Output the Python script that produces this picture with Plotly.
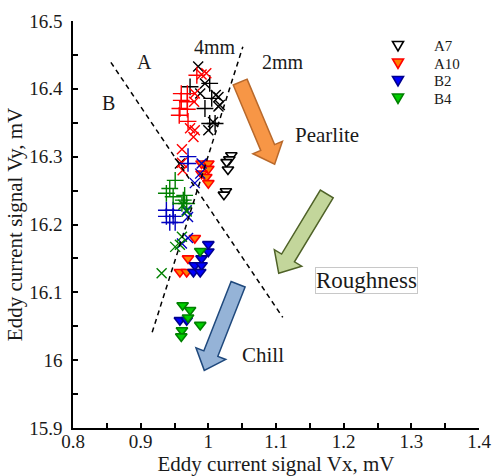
import math
import plotly.graph_objects as go

X_RANGE = [0.8, 1.4]
Y_RANGE = [15.9, 16.5]
X_TICKS = [0.8, 0.9, 1.0, 1.1, 1.2, 1.3, 1.4]
Y_TICKS = [15.9, 16.0, 16.1, 16.2, 16.3, 16.4, 16.5]

# ---- A7 (black) ----
a7_x_vx = [0.985, 0.995, 0.988, 1.011, 1.015, 1.017, 1.015, 1.007, 1.000, 0.958]
a7_x_vy = [16.433, 16.408, 16.393, 16.391, 16.388, 16.376, 16.374, 16.351, 16.339, 16.290]
a7_p_vx = [0.973, 1.002, 1.005, 0.995, 1.002, 1.010]
a7_p_vy = [16.403, 16.408, 16.386, 16.371, 16.349, 16.349]
a7_t_vx = [1.034, 1.031, 1.027, 1.029, 1.026, 1.023]
a7_t_vy = [16.302, 16.296, 16.292, 16.281, 16.249, 16.244]

# ---- A10 (red) ----
a10_p_vx = [0.983, 0.960, 0.969, 0.960, 0.969, 0.958, 0.969, 0.957, 0.970]
a10_p_vy = [16.420, 16.393, 16.393, 16.383, 16.381, 16.371, 16.370, 16.361, 16.352]
a10_x_vx = [0.997, 0.990, 0.980, 0.979, 0.973, 0.980, 0.978, 0.961, 0.961, 0.962]
a10_x_vy = [16.423, 16.421, 16.393, 16.381, 16.342, 16.339, 16.329, 16.311, 16.291, 16.280]
a10_t_vx = [0.990, 1.000, 1.000, 0.990, 0.997, 1.000, 0.980, 0.970, 0.958, 0.968]
a10_t_vy = [16.290, 16.290, 16.282, 16.275, 16.270, 16.261, 16.180, 16.150, 16.130, 16.130]

# ---- B2 (blue) ----
b2_p_vx = [0.970, 0.970, 0.938, 0.948, 0.938, 0.948, 0.943, 0.951]
b2_p_vy = [16.300, 16.290, 16.221, 16.221, 16.212, 16.212, 16.203, 16.203]
b2_x_vx = [0.990, 0.988, 0.980, 0.970, 0.968, 0.970, 0.961]
b2_x_vy = [16.290, 16.275, 16.261, 16.211, 16.221, 16.180, 16.172]
b2_t_vx = [1.000, 1.000, 0.990, 0.980, 0.990, 0.978, 0.988, 0.958, 0.968]
b2_t_vy = [16.171, 16.160, 16.150, 16.140, 16.140, 16.130, 16.130, 16.059, 16.059]

# ---- B4 (green) ----
b4_p_vx = [0.951, 0.943, 0.938, 0.948, 0.963, 0.965, 0.961, 0.968]
b4_p_vy = [16.265, 16.253, 16.246, 16.241, 16.236, 16.243, 16.231, 16.231]
b4_x_vx = [0.963, 0.968, 0.961, 0.958, 0.951, 0.931]
b4_x_vy = [16.229, 16.219, 16.182, 16.170, 16.167, 16.128]
b4_t_vx = [0.988, 0.962, 0.973, 0.970, 0.988, 0.961, 0.960]
b4_t_vy = [16.161, 16.081, 16.074, 16.063, 16.052, 16.044, 16.035]

# dashed separator lines (data coords)
line1_vx = [0.856, 1.110]
line1_vy = [16.439, 16.063]
line2_vx = [0.917, 1.051]
line2_vy = [16.041, 16.462]

LEGEND_NAMES = ["A7", "A10", "B2", "B4"]
LEGEND_FILL = ["#ffffff", "#ff8000", "#0000ff", "#00d000"]
LEGEND_LINE = ["#000000", "#ff0000", "#000090", "#008000"]

FONT = "Liberation Serif"
TXT = "#1a1a1a"

W, H = 493, 476
ML, MR, MT, MB = 73, 14, 21, 48
PW, PH = W - ML - MR, H - MT - MB

fig = go.Figure()

def add_group(name, xv, xy, pv, py, tv, ty, line_col, tri_fill, tri_line):
    fig.add_trace(go.Scatter(x=xv, y=xy, mode="markers", showlegend=False, legendgroup=name,
                             marker=dict(symbol="x-thin", size=10,
                                         line=dict(color=line_col, width=1.4))))
    fig.add_trace(go.Scatter(x=pv, y=py, mode="markers", showlegend=False, legendgroup=name,
                             marker=dict(symbol="cross-thin", size=12,
                                         line=dict(color=line_col, width=1.4))))
    fig.add_trace(go.Scatter(x=tv, y=ty, mode="markers", name=name, showlegend=False,
                             legendgroup=name,
                             marker=dict(symbol="triangle-down", size=10, color=tri_fill,
                                         line=dict(color=tri_line, width=1.6))))

add_group("A7", a7_x_vx, a7_x_vy, a7_p_vx, a7_p_vy, a7_t_vx, a7_t_vy, "#000000", LEGEND_FILL[0], LEGEND_LINE[0])
add_group("A10", a10_x_vx, a10_x_vy, a10_p_vx, a10_p_vy, a10_t_vx, a10_t_vy, "#ff0000", LEGEND_FILL[1], LEGEND_LINE[1])
add_group("B2", b2_x_vx, b2_x_vy, b2_p_vx, b2_p_vy, b2_t_vx, b2_t_vy, "#0000c0", LEGEND_FILL[2], LEGEND_LINE[2])
add_group("B4", b4_x_vx, b4_x_vy, b4_p_vx, b4_p_vy, b4_t_vx, b4_t_vy, "#008000", LEGEND_FILL[3], LEGEND_LINE[3])

for lx, ly in [(line1_vx, line1_vy), (line2_vx, line2_vy)]:
    fig.add_trace(go.Scatter(x=lx, y=ly, mode="lines", showlegend=False, hoverinfo="skip",
                             line=dict(color="#000000", width=1.5, dash="5px,4px")))

# block arrows
sx = PW / (X_RANGE[1] - X_RANGE[0])
sy = PH / (Y_RANGE[1] - Y_RANGE[0])

def arrow_path(tail, tip, shaft, head, headlen):
    tx, ty = tail[0] * sx, tail[1] * sy
    hx, hy = tip[0] * sx, tip[1] * sy
    dx, dy = hx - tx, hy - ty
    L = math.hypot(dx, dy)
    ux, uy = dx / L, dy / L
    nx, ny = -uy, ux
    bx, by = hx - ux * headlen, hy - uy * headlen
    pts = [
        (tx + nx * shaft / 2, ty + ny * shaft / 2),
        (bx + nx * shaft / 2, by + ny * shaft / 2),
        (bx + nx * head / 2, by + ny * head / 2),
        (hx, hy),
        (bx - nx * head / 2, by - ny * head / 2),
        (bx - nx * shaft / 2, by - ny * shaft / 2),
        (tx - nx * shaft / 2, ty - ny * shaft / 2),
    ]
    return "M " + " L ".join(f"{px / sx:.5f},{py / sy:.5f}" for px, py in pts) + " Z"

arrows = [
    ((1.047, 16.410), (1.098, 16.289), "#f79646", "#b9692b"),
    ((1.175, 16.245), (1.104, 16.128), "#c3d69b", "#4f6228"),
    ((1.044, 16.112), (0.994, 15.985), "#95b3d7", "#1f497d"),
]
for tail, tip, fc, lc in arrows:
    fig.add_shape(type="path", path=arrow_path(tail, tip, 15, 32, 18), xref="x", yref="y",
                  fillcolor=fc, line=dict(color=lc, width=1.5))

labels = [
    ("A", 0.906, 16.440, 20),
    ("B", 0.852, 16.379, 20),
    ("4mm", 1.010, 16.462, 20),
    ("2mm", 1.110, 16.440, 20),
    ("Pearlite", 1.175, 16.332, 21),
    ("Chill", 1.081, 16.007, 21),
]
for t, x, y, s in labels:
    fig.add_annotation(x=x, y=y, text=t, showarrow=False, xref="x", yref="y",
                       font=dict(family=FONT, size=s, color=TXT))
fig.add_annotation(x=1.234, y=16.117, text="Roughness", showarrow=False, xref="x", yref="y",
                   font=dict(family=FONT, size=23, color=TXT),
                   bordercolor="#c8c8c8", borderwidth=1, borderpad=0)

# legend (drawn in paper coordinates)
def px2paper(px, py):
    return (px - ML) / PW, (H - MB - py) / PH

LEG_KEY_X, LEG_TXT_X, LEG_Y0, LEG_DY = 398, 432, 46, 17.5
for i, name in enumerate(LEGEND_NAMES):
    cy = LEG_Y0 + i * LEG_DY
    tri = [(LEG_KEY_X - 5.5, cy - 4.5), (LEG_KEY_X + 5.5, cy - 4.5), (LEG_KEY_X, cy + 5)]
    pts = [px2paper(*p) for p in tri]
    path = "M " + " L ".join(f"{a:.5f},{b:.5f}" for a, b in pts) + " Z"
    fig.add_shape(type="path", path=path, xref="paper", yref="paper",
                  fillcolor=LEGEND_FILL[i], line=dict(color=LEGEND_LINE[i], width=1.6))
    tx, ty = px2paper(LEG_TXT_X, cy)
    fig.add_annotation(x=tx, y=ty, xref="paper", yref="paper", xanchor="left", yanchor="middle",
                       text=name, showarrow=False, font=dict(family=FONT, size=15, color=TXT))

fig.update_layout(
    width=W, height=H,
    margin=dict(l=ML, r=MR, t=MT, b=MB, autoexpand=False),
    paper_bgcolor="white", plot_bgcolor="white",
    font=dict(family=FONT, size=20, color=TXT),
    showlegend=False,
    xaxis=dict(range=X_RANGE, tickvals=X_TICKS, showgrid=False, zeroline=False,
               showline=True, linecolor="#000000", linewidth=1.5, automargin=False,
               ticks="inside", ticklen=0, tickfont=dict(size=19), ticklabelstandoff=-5,
               minor=dict(ticks="inside", ticklen=5, dtick=0.05, tickwidth=1.5, tickcolor="#000000"),
               title=dict(text="Eddy current signal Vx, mV", font=dict(size=21), standoff=6)),
    yaxis=dict(range=Y_RANGE, tickvals=Y_TICKS, showgrid=False, zeroline=False,
               showline=True, linecolor="#000000", linewidth=1.5, automargin=False,
               ticks="inside", ticklen=0, tickfont=dict(size=19), ticklabelstandoff=5,
               minor=dict(ticks="inside", ticklen=5, dtick=0.05, tickwidth=1.5, tickcolor="#000000"),
               title=dict(text="Eddy current signal Vy, mV", font=dict(size=21), standoff=1)),
    xaxis2=dict(range=X_RANGE, overlaying="x", side="top", anchor="y", showgrid=False,
                zeroline=False, showline=True, linecolor="#000000", linewidth=1.5, automargin=False,
                showticklabels=False, ticks="inside", ticklen=5, tickwidth=1.5,
                tickcolor="#000000", dtick=0.05, tick0=0.8),
    yaxis2=dict(range=Y_RANGE, overlaying="y", side="right", anchor="x", showgrid=False,
                zeroline=False, showline=True, linecolor="#000000", linewidth=1.5, automargin=False,
                showticklabels=False, ticks="inside", ticklen=9, tickwidth=1.5,
                tickcolor="#000000", dtick=0.1, tick0=15.9,
                minor=dict(ticks="inside", ticklen=5, dtick=0.05, tickwidth=1.5, tickcolor="#000000")),
)

fig.write_html("out.html")
